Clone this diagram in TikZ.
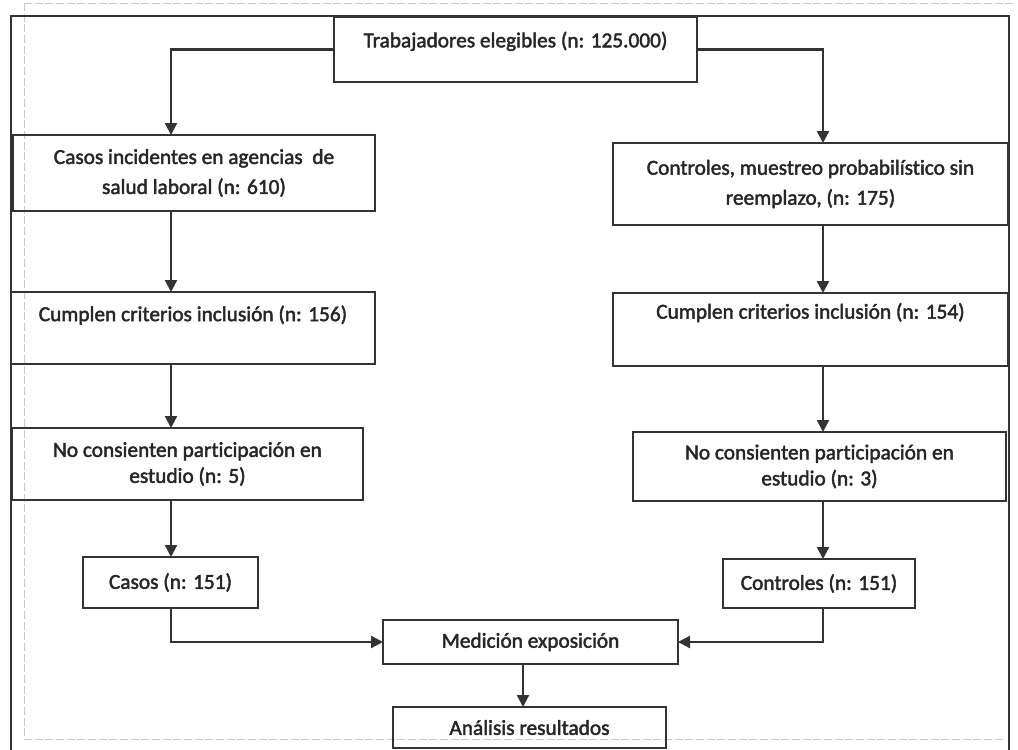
\documentclass[tikz,border=0pt]{standalone}
\usepackage{fontspec}
\setmainfont[Ligatures=NoCommon,FakeBold=2]{Carlito}
\usetikzlibrary{arrows.meta,calc}
\newcommand{\pxu}{0.75pt}
\definecolor{ink}{HTML}{333333}
\definecolor{scanline}{HTML}{C8C8C8}
\tikzset{
  box/.style={draw=ink, line width=1.7pt, inner sep=0pt, outer sep=0pt,
    align=center, text=black!85, font=\fontsize{16}{22.5}\selectfont},
  tight/.style={font=\fontsize{16}{19.5}\selectfont},
  arr/.style={draw=ink, line width=1.7pt, -{Triangle[length=9pt,width=9pt]}},
  link/.style={draw=ink, line width=1.7pt},
}
\begin{document}
\begin{tikzpicture}[x=0.75pt,y=-0.75pt]
\useasboundingbox (0,0) rectangle (1018,750);
\fill[white] (0,0) rectangle (1018,750);
% faint dashed page frame
\draw[scanline, line width=0.6pt, dash pattern=on 6pt off 2pt]
  (24,3) -- (1016,3) (24,3) -- (24,739) -- (1003,739);
% outer frame, open at the bottom
\draw[link] (11,752) -- (11,16) -- (1009,16) -- (1009,752);

% column guides
\coordinate (colL) at (171,0);
\coordinate (colR) at (823,0);
\coordinate (colM) at (523,0);

% boxes
\node[box, minimum width=363*\pxu, minimum height=65*\pxu, text depth=15pt]
  (top) at (515.5,49.5) {Trabajadores elegibles (n: 125.000)};
\node[box, minimum width=362*\pxu, minimum height=76*\pxu]
  (cinc) at (194,173) {Casos incidentes en agencias\ \ de\\salud laboral (n: 610)};
\node[box, minimum width=395*\pxu, minimum height=82*\pxu]
  (ctrl) at (810.5,184) {Controles, muestreo probabilístico sin\\reemplazo, (n: 175)};
\node[box, minimum width=364*\pxu, minimum height=72*\pxu, text depth=22pt]
  (cumpL) at (193,328) {Cumplen criterios inclusión (n: 156)};
\node[box, minimum width=395*\pxu, minimum height=73*\pxu, text depth=28pt]
  (cumpR) at (810.5,329.5) {Cumplen criterios inclusión (n: 154)};
\node[box, tight, minimum width=351*\pxu, minimum height=72*\pxu]
  (noL) at (187.5,464) {No consienten participación en\\estudio (n: 5)};
\node[box, tight, minimum width=373*\pxu, minimum height=69*\pxu]
  (noR) at (819.5,466.5) {No consienten participación en\\estudio (n: 3)};
\node[box, minimum width=175*\pxu, minimum height=51*\pxu]
  (casos) at (170.5,582.5) {Casos (n: 151)};
\node[box, minimum width=192*\pxu, minimum height=49*\pxu]
  (contR) at (819,583.5) {Controles (n: 151)};
\node[box, minimum width=295*\pxu, minimum height=44*\pxu]
  (med) at (530.5,642) {Medición exposición};
\node[box, minimum width=273*\pxu, minimum height=41*\pxu]
  (anal) at (529.5,727.5) {Análisis resultados};

% connectors
\draw[arr] (top.west) -| (colL |- cinc.north);
\draw[arr] (top.east) -| (colR |- ctrl.north);
\draw[arr] (colL |- cinc.south) -- (colL |- cumpL.north);
\draw[arr] (colL |- cumpL.south) -- (colL |- noL.north);
\draw[arr] (colL |- noL.south) -- (colL |- casos.north);
\draw[arr] (colR |- ctrl.south) -- (colR |- cumpR.north);
\draw[arr] (colR |- cumpR.south) -- (colR |- noR.north);
\draw[arr] (colR |- noR.south) -- (colR |- contR.north);
\draw[arr] (colL |- casos.south) |- (med.west);
\draw[arr] (colR |- contR.south) |- (med.east);
\draw[arr] (colM |- med.south) -- (colM |- anal.north);
\end{tikzpicture}
\end{document}
